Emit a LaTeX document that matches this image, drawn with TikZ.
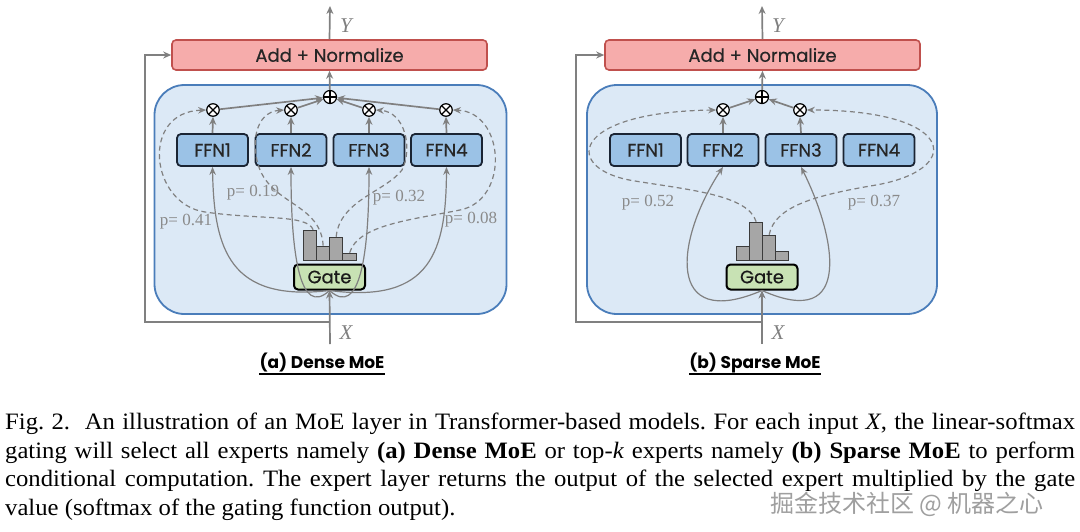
\documentclass[tikz,border=0pt]{standalone}
\usepackage{fontspec}
\setmainfont{Liberation Serif}
\newfontfamily\geo[FakeBold=0.5]{Poppins}
\newfontfamily\geot{Poppins}
\newfontfamily\cjk{Noto Sans CJK SC}
\usetikzlibrary{arrows.meta,calc}
\definecolor{garr}{HTML}{808080}
\definecolor{addfill}{HTML}{F6ACAB}
\definecolor{addline}{HTML}{C0504D}
\definecolor{panfill}{HTML}{DCE9F6}
\definecolor{panline}{HTML}{4A7DBA}
\definecolor{ffnfill}{HTML}{9BC2E6}
\definecolor{ffnline}{HTML}{1A2433}
\definecolor{gatefill}{HTML}{C8E2B4}
\definecolor{barfill}{HTML}{A6A6A6}
\definecolor{barline}{HTML}{3B3B3B}
\definecolor{plab}{HTML}{8A8A8A}
\frenchspacing
\newcommand{\capln}[1]{\scalebox{1.05}[1]{\hbox to 1019pt{#1}}}
\begin{document}
\begin{tikzpicture}[x=1pt,y=-1pt,
  arr/.style={draw=garr,line width=1.7pt,-{Stealth[length=8pt,width=7pt]}},
  curv/.style={draw=garr,line width=1.2pt,-{Stealth[length=8pt,width=6.5pt]}},
  dsh/.style={draw=garr,line width=1.2pt,dash pattern=on 5pt off 3.5pt,-{Stealth[length=8pt,width=6.5pt]}},
  panel/.style={draw=panline,fill=panfill,line width=1.8pt,rounded corners=30pt,inner sep=0pt},
  addbox/.style={draw=addline,fill=addfill,line width=1.6pt,rounded corners=4pt,minimum width=315pt,minimum height=30pt,inner sep=0pt,text=black!85,font=\geo\fontsize{18}{18}\selectfont},
  ffnbox/.style={draw=ffnline,fill=ffnfill,line width=1.8pt,rounded corners=4pt,minimum width=71pt,minimum height=32pt,inner sep=0pt,text=black!85,font=\geo\fontsize{18}{18}\selectfont},
  gatebox/.style={draw=black,fill=gatefill,line width=2pt,rounded corners=4pt,minimum width=71pt,minimum height=25pt,inner sep=0pt,text=black!90,font=\geo\fontsize{18}{18}\selectfont},
  barbox/.style={draw=barline,fill=barfill,line width=1.3pt,anchor=south west,inner sep=0pt,minimum width=13pt},
  otm/.style={circle,draw=black,fill=white,line width=1.2pt,minimum size=12.5pt,inner sep=0pt,
    path picture={\draw[line width=1.1pt] (path picture bounding box.north west) -- (path picture bounding box.south east) (path picture bounding box.north east) -- (path picture bounding box.south west);}},
  opl/.style={circle,draw=black,fill=white,line width=1.2pt,minimum size=13pt,inner sep=0pt,
    path picture={\draw[line width=1.1pt] (path picture bounding box.north) -- (path picture bounding box.south) (path picture bounding box.east) -- (path picture bounding box.west);}},
  plbl/.style={text=plab,inner sep=0pt,font=\fontsize{17}{17}\selectfont},
  xy/.style={text=garr,inner sep=0pt,font=\itshape\fontsize{21}{21}\selectfont},
  title/.style={inner sep=0pt,anchor=base,font=\geot\bfseries\fontsize{17}{17}\selectfont},
  capline/.style={anchor=base west,inner sep=0pt,font=\fontsize{23.5}{26}\selectfont}
]
\useasboundingbox[fill=white] (0,0) rectangle (1080,531);

% ================= panels =================
\node[panel,minimum width=352pt,minimum height=229pt] (moe1) at (330.5,199.5) {};
\node[panel,minimum width=350pt,minimum height=229pt] (moe2) at (762,199.5) {};

% ================= (a) Dense =================
\node[addbox] (add1) at (329.5,55) {Add + Normalize};
\coordinate (y1) at (330,6);
\coordinate (x1) at (330,344);
\coordinate (r1) at (330,322);
\node[xy] (ly1) at (346,26) {Y};
\node[xy] (lx1) at (346,333) {X};

\node[ffnbox] (f11) at (212.5,150) {FFN1};
\node[ffnbox] (f12) at (291,150) {FFN2};
\node[ffnbox] (f13) at (369,150) {FFN3};
\node[ffnbox] (f14) at (446.5,150) {FFN4};
\node[otm] (m11) at (213,110) {};
\node[otm] (m12) at (291,110) {};
\node[otm] (m13) at (369,110) {};
\node[otm] (m14) at (446,110) {};
\node[opl] (s1) at (330,97) {};
\node[gatebox] (g1) at (329.5,277) {Gate};
\node[barbox,minimum height=30pt] (b11) at (303,261) {};
\node[barbox,minimum height=14pt] (b12) at (316,261) {};
\node[barbox,minimum height=23pt] (b13) at (329,261) {};
\node[barbox,minimum height=7pt,minimum width=14pt] (b14) at (342,261) {};

\draw[arr] (add1.north) -- (y1);
\draw[arr] (s1) -- (add1.south);
\foreach \i in {1,...,4} {\draw[arr] (f1\i.north) -- (m1\i.south); \draw[arr] (m1\i) -- (s1);}
\draw[arr] (x1) -- (g1.south);
\draw[arr] (r1) -- ++(-185,0) |- (add1.west);

\draw[curv] (g1.south) .. controls (230,302) and (214,250) .. (f11.south);
\draw[curv] (g1.south) .. controls (300,318) and (291,255) .. (f12.south);
\draw[curv] (g1.south) .. controls (360,318) and (369,255) .. (f13.south);
\draw[curv] (g1.south) .. controls (432,304) and (446,250) .. (f14.south);

\draw[dsh] ([xshift=3pt]b11.north) .. controls (307,214) and (260,220) .. (205,212) .. controls (150,204) and (140,112) .. (m11.west);
\draw[dsh] (b12.north) .. controls (321,205) and (275,205) .. (260,170) .. controls (250,145) and (255,112) .. (m12.west);
\draw[dsh] (b13.north) .. controls (340,200) and (385,192) .. (402,170) .. controls (413,148) and (405,112) .. (m13.east);
\draw[dsh] (b14.north) .. controls (358,225) and (410,220) .. (460,210) .. controls (510,200) and (505,112) .. (m14.east);

\node[plbl] (p11) at (186,222) {p= 0.41};
\node[plbl] (p12) at (253,193) {p= 0.19};
\node[plbl] (p13) at (399,198) {p= 0.32};
\node[plbl] (p14) at (471,220) {p= 0.08};

\node[title] (t1) at (322,368) {(a) Dense MoE};
\draw[line width=1.6pt] ([yshift=-6pt]t1.base west) -- ([yshift=-6pt]t1.base east);

% ================= (b) Sparse =================
\node[addbox] (add2) at (762.5,55) {Add + Normalize};
\coordinate (y2) at (762,6);
\coordinate (x2) at (762,344);
\coordinate (r2) at (762,322);
\node[xy] (ly2) at (778,26) {Y};
\node[xy] (lx2) at (778,333) {X};

\node[ffnbox] (f21) at (645.5,150) {FFN1};
\node[ffnbox] (f22) at (723,150) {FFN2};
\node[ffnbox] (f23) at (801,150) {FFN3};
\node[ffnbox] (f24) at (879,150) {FFN4};
\node[otm] (m22) at (723,110) {};
\node[otm] (m23) at (800,110) {};
\node[opl] (s2) at (762,97) {};
\node[gatebox] (g2) at (762,277) {Gate};
\node[barbox,minimum height=14pt] (b21) at (736,261) {};
\node[barbox,minimum height=38pt] (b22) at (749,261) {};
\node[barbox,minimum height=25pt] (b23) at (762,261) {};
\node[barbox,minimum height=9pt] (b24) at (775,261) {};

\draw[arr] (add2.north) -- (y2);
\draw[arr] (s2) -- (add2.south);
\foreach \i in {2,3} {\draw[arr] (f2\i.north) -- (m2\i.south); \draw[arr] (m2\i) -- (s2);}
\draw[arr] (x2) -- (g2.south);
\draw[arr] (r2) -- ++(-186,0) |- (add2.west);

\draw[curv] (g2.south) .. controls (665,332) and (675,240) .. (f22.south);
\draw[curv] (g2.south) .. controls (855,332) and (835,235) .. (f23.south);

\draw[dsh] (b22.north) .. controls (748,195) and (690,190) .. (635,181) .. controls (562,170) and (568,112) .. (m22.west);
\draw[dsh] (b23.north) .. controls (775,205) and (820,195) .. (870,186) .. controls (965,172) and (960,110) .. (m23.east);

\node[plbl] (p21) at (648,203) {p= 0.52};
\node[plbl] (p22) at (874,203) {p= 0.37};

\node[title] (t2) at (755,368) {(b) Sparse MoE};
\draw[line width=1.6pt] ([yshift=-6pt]t2.base west) -- ([yshift=-6pt]t2.base east);

% ================= caption =================
\node[capline] (c1) at (5,429) {\capln{Fig. 2.\ \ An illustration of an MoE layer in Transformer-based models. For each input \textit{X}, the linear-softmax}};
\node[capline] (c2) at (5,458) {\capln{gating will select all experts namely \textbf{(a) Dense MoE} or top-\textit{k} experts namely \textbf{(b) Sparse MoE} to perform}};
\node[capline] (c3) at (5,486) {\capln{conditional computation. The expert layer returns the output of the selected expert multiplied by the gate}};
\node[capline] (c4) at (5,515) {\scalebox{1.05}[1]{value (softmax of the gating function output).}};
\node[anchor=base west,inner sep=0pt,text=gray!75,font=\cjk\fontsize{24}{24}\selectfont] (wm) at (770,512) {掘金技术社区 @ 机器之心};
\end{tikzpicture}
\end{document}
